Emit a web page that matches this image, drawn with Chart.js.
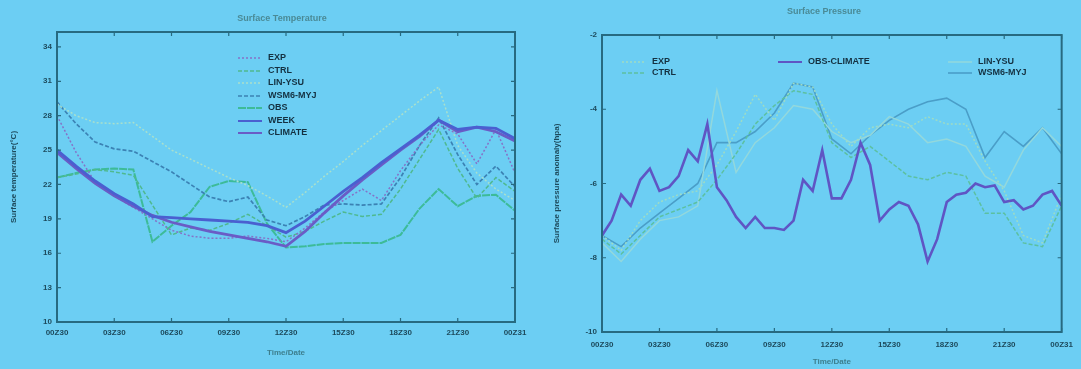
<!DOCTYPE html>
<html>
<head>
<meta charset="utf-8">
<script src="https://cdn.jsdelivr.net/npm/chart.js@4.4.1/dist/chart.umd.min.js"></script>
<style>
  html, body { margin: 0; padding: 0; background: #6ccef3; }
  #wrap { position: relative; width: 1081px; height: 369px; }
  .box { position: absolute; top: 0; height: 369px; }
</style>
</head>
<body>
<div id="wrap">
  <div class="box" style="left:0;width:540px"><canvas id="tempChart" width="540" height="369"></canvas></div>
  <div class="box" style="left:540px;width:541px"><canvas id="presChart" width="541" height="369"></canvas></div>
</div>
<script>
// time axis
const timeLabels = ["00Z30", "03Z30", "06Z30", "09Z30", "12Z30", "15Z30", "18Z30", "21Z30", "00Z31"];
const hours = [0, 1, 2, 3, 4, 5, 6, 7, 8, 9, 10, 11, 12, 13, 14, 15, 16, 17, 18, 19, 20, 21, 22, 23, 24];
const obsHours = [0, 0.5, 1, 1.5, 2, 2.5, 3, 3.5, 4, 4.5, 5, 5.5, 6, 6.5, 7, 7.5, 8, 8.5, 9, 9.5, 10, 10.5, 11, 11.5,
  12, 12.5, 13, 13.5, 14, 14.5, 15, 15.5, 16, 16.5, 17, 17.5, 18, 18.5, 19, 19.5, 20, 20.5, 21, 21.5, 22, 22.5, 23, 23.5, 24];

// left panel: surface temperature (°C)
const tempTicks = [10, 13, 16, 19, 22, 25, 28, 31, 34];
const tExp     = [28.0, 24.8, 22.2, 21.0, 20.0, 19.0, 18.0, 17.5, 17.3, 17.3, 17.5, 17.3, 17.0, 18.2, 19.6, 20.6, 21.6, 20.6, 23.2, 25.4, 27.2, 26.4, 23.8, 26.8, 23.0];
const tCtrl    = [22.6, 22.9, 23.3, 23.1, 22.8, 20.2, 17.6, 18.2, 18.0, 18.6, 19.4, 18.4, 17.4, 17.9, 18.8, 19.6, 19.2, 19.4, 21.6, 24.2, 26.8, 23.4, 20.8, 22.6, 21.4];
const tLinYsu  = [29.0, 28.0, 27.4, 27.3, 27.4, 26.2, 25.0, 24.2, 23.4, 22.6, 21.9, 21.0, 20.0, 21.3, 22.7, 24.0, 25.4, 26.7, 28.0, 29.3, 30.5, 25.4, 23.0, 21.6, 20.6];
const tWsmMyj  = [29.2, 27.3, 25.7, 25.1, 24.9, 24.0, 23.1, 22.0, 20.9, 20.5, 20.9, 18.9, 18.4, 19.2, 20.2, 20.3, 20.2, 20.3, 22.6, 25.4, 27.8, 24.6, 22.0, 23.6, 21.8];
const tObs     = [22.6, 23.0, 23.3, 23.4, 23.3, 17.0, 18.4, 19.6, 21.8, 22.3, 22.2, 18.6, 16.5, 16.6, 16.8, 16.9, 16.9, 16.9, 17.6, 19.9, 21.6, 20.1, 21.0, 21.1, 19.7];
const tWeek    = [25.0, 23.6, 22.3, 21.2, 20.3, 19.2, 19.1, 19.0, 18.9, 18.8, 18.7, 18.4, 17.8, 18.8, 20.1, 21.4, 22.6, 23.9, 25.1, 26.3, 27.6, 26.8, 27.0, 26.9, 26.0];
const tClimate = [24.8, 23.4, 22.1, 21.0, 20.1, 19.3, 18.7, 18.3, 17.9, 17.6, 17.3, 17.0, 16.6, 17.9, 19.5, 21.0, 22.4, 23.7, 25.0, 26.2, 27.6, 26.6, 27.0, 26.6, 25.8];

// right panel: surface pressure anomaly (hPa)
const presTicks = [-10, -8, -6, -4, -2];
const pExp    = [-7.4, -7.8, -7.0, -6.5, -6.3, -6.2, -5.5, -4.6, -3.6, -4.3, -3.3, -3.4, -4.4, -5.0, -4.5, -4.4, -4.5, -4.2, -4.4, -4.4, -5.4, -6.2, -7.4, -7.6, -6.3];
const pCtrl   = [-7.5, -7.9, -7.4, -6.9, -6.7, -6.5, -5.9, -5.2, -4.4, -3.9, -3.5, -3.6, -4.9, -5.3, -5.0, -5.4, -5.8, -5.9, -5.7, -5.8, -6.8, -6.8, -7.6, -7.7, -6.6];
const pLinYsu = [-7.6, -8.1, -7.5, -7.0, -6.9, -6.6, -3.5, -5.7, -4.9, -4.5, -3.9, -4.0, -4.6, -4.9, -4.7, -4.2, -4.4, -4.9, -4.8, -5.0, -5.8, -6.1, -5.1, -4.5, -5.0];
const pWsmMyj = [-7.4, -7.7, -7.2, -6.8, -6.4, -6.0, -4.9, -4.9, -4.6, -4.1, -3.3, -3.4, -4.8, -5.2, -4.7, -4.3, -4.0, -3.8, -3.7, -4.0, -5.3, -4.6, -5.0, -4.5, -5.2];
const pObsClimate = [-7.4, -7.0, -6.3, -6.6, -5.9, -5.6, -6.2, -6.1, -5.8, -5.1, -5.4, -4.4, -6.1, -6.45, -6.9, -7.2, -6.9, -7.2, -7.2, -7.25,
  -7.0, -5.9, -6.2, -5.1, -6.4, -6.4, -5.9, -4.9, -5.5, -7.0, -6.7, -6.5, -6.6, -7.1, -8.1, -7.5, -6.5, -6.3, -6.25, -6.0,
  -6.1, -6.05, -6.5, -6.45, -6.7, -6.6, -6.3, -6.2, -6.6];

const axisColor = "#276a80";
const textColor = "#1d4a5c";
const tickFont = { family: "Liberation Sans", size: 8, weight: "bold" };

function pts(xs, ys) {
  return ys.map((v, i) => ({ x: xs[i], y: v }));
}

// frame, inward ticks, title and legend drawn over the plot
const decorPlugin = {
  id: "decor",
  afterDatasetsDraw(chart, args, opts) {
    const { ctx, chartArea: a, scales } = chart;
    ctx.save();
    ctx.strokeStyle = axisColor;
    ctx.lineWidth = 2;
    ctx.strokeRect(a.left, a.top, a.right - a.left, a.bottom - a.top);
    ctx.lineWidth = 1.2;
    ctx.beginPath();
    scales.x.ticks.forEach(t => {
      const px = scales.x.getPixelForValue(t.value);
      ctx.moveTo(px, a.bottom); ctx.lineTo(px, a.bottom - 4);
      ctx.moveTo(px, a.top); ctx.lineTo(px, a.top + 4);
    });
    scales.y.ticks.forEach(t => {
      const py = scales.y.getPixelForValue(t.value);
      ctx.moveTo(a.left, py); ctx.lineTo(a.left + 4, py);
      ctx.moveTo(a.right, py); ctx.lineTo(a.right - 4, py);
    });
    ctx.stroke();

    // title
    ctx.fillStyle = "#4a8a96";
    ctx.font = "bold 9px 'Liberation Sans'";
    ctx.textAlign = "center";
    ctx.textBaseline = "middle";
    ctx.fillText(opts.title, opts.titleX, opts.titleY);

    // legend
    ctx.textAlign = "left";
    ctx.fillStyle = "#143040";
    ctx.font = "bold 9px 'Liberation Sans'";
    opts.items.forEach(it => {
      const ds = chart.data.datasets[it.i];
      ctx.strokeStyle = ds.borderColor;
      ctx.lineWidth = Math.min(ds.borderWidth, 2);
      ctx.setLineDash(ds.borderDash || []);
      ctx.beginPath();
      ctx.moveTo(it.x, it.y);
      ctx.lineTo(it.x + 24, it.y);
      ctx.stroke();
      ctx.setLineDash([]);
      ctx.fillText(ds.label, it.x + 30, it.y);
    });
    ctx.restore();
  }
};

function makeScales(xTitle, yTitle, yMin, yMax, yTicks, yWidth, xHeight, xTickPad, xTitlePad, yTitlePad) {
  return {
    x: {
      type: "linear", min: 0, max: 24,
      afterBuildTicks: s => { s.ticks = [0, 3, 6, 9, 12, 15, 18, 21, 24].map(v => ({ value: v })); },
      afterFit: s => { s.height = xHeight; },
      ticks: { color: textColor, font: tickFont, padding: xTickPad, maxRotation: 0, autoSkip: false,
        callback: v => timeLabels[v / 3] },
      grid: { display: false, drawTicks: false },
      border: { display: false },
      title: { display: true, text: xTitle, color: "#3d7f8e", font: tickFont, padding: { top: 0, bottom: xTitlePad } }
    },
    y: {
      type: "linear", min: yMin, max: yMax,
      afterBuildTicks: s => { s.ticks = yTicks.map(v => ({ value: v })); },
      afterFit: s => { s.width = yWidth; },
      ticks: { color: textColor, font: tickFont, padding: 5, autoSkip: false },
      grid: { display: false, drawTicks: false },
      border: { display: false },
      title: { display: true, text: yTitle, color: textColor, font: tickFont, padding: { top: yTitlePad, bottom: 0 } }
    }
  };
}

const lineDefaults = { fill: false, tension: 0, pointRadius: 0 };

new Chart(document.getElementById("tempChart"), {
  type: "line",
  data: {
    datasets: [
      { ...lineDefaults, label: "WEEK", data: pts(hours, tWeek), borderColor: "#4a5fd0", borderWidth: 2.8 },
      { ...lineDefaults, label: "CLIMATE", data: pts(hours, tClimate), borderColor: "#6a5cc6", borderWidth: 2.8 },
      { ...lineDefaults, label: "EXP", data: pts(hours, tExp), borderColor: "#8572c8", borderWidth: 1.5, borderDash: [2, 2] },
      { ...lineDefaults, label: "CTRL", data: pts(hours, tCtrl), borderColor: "#4fb98f", borderWidth: 1.5, borderDash: [4, 2] },
      { ...lineDefaults, label: "LIN-YSU", data: pts(hours, tLinYsu), borderColor: "#a9e0cc", borderWidth: 1.5, borderDash: [2, 2] },
      { ...lineDefaults, label: "WSM6-MYJ", data: pts(hours, tWsmMyj), borderColor: "#3b82b4", borderWidth: 1.7, borderDash: [4, 2] },
      { ...lineDefaults, label: "OBS", data: pts(hours, tObs), borderColor: "#3dbb98", borderWidth: 2, borderDash: [8, 1] }
    ]
  },
  options: {
    responsive: false,
    animation: false,
    layout: { padding: { left: 0, top: 32, right: 25, bottom: 0 } },
    scales: makeScales("Time/Date", "Surface temperature(\u00b0C)", 10, 35.3, tempTicks, 57, 47, 6, 11, 9),
    plugins: {
      legend: { display: false },
      tooltip: { enabled: false },
      decor: {
        title: "Surface Temperature", titleX: 282, titleY: 19,
        items: [
          { i: 2, x: 238, y: 58 }, { i: 3, x: 238, y: 71 }, { i: 4, x: 238, y: 83 }, { i: 5, x: 238, y: 96 },
          { i: 6, x: 238, y: 108 }, { i: 0, x: 238, y: 121 }, { i: 1, x: 238, y: 133 }
        ]
      }
    }
  },
  plugins: [decorPlugin]
});

new Chart(document.getElementById("presChart"), {
  type: "line",
  data: {
    datasets: [
      { ...lineDefaults, label: "OBS-CLIMATE", data: pts(obsHours, pObsClimate), borderColor: "#5f55c4", borderWidth: 2.6 },
      { ...lineDefaults, label: "EXP", data: pts(hours, pExp), borderColor: "#9edcc4", borderWidth: 1.5, borderDash: [2, 2] },
      { ...lineDefaults, label: "CTRL", data: pts(hours, pCtrl), borderColor: "#5cc0a0", borderWidth: 1.5, borderDash: [4, 2] },
      { ...lineDefaults, label: "LIN-YSU", data: pts(hours, pLinYsu), borderColor: "#93d8dc", borderWidth: 1.5 },
      { ...lineDefaults, label: "WSM6-MYJ", data: pts(hours, pWsmMyj), borderColor: "#4a9ec8", borderWidth: 1.6 }
    ]
  },
  options: {
    responsive: false,
    animation: false,
    layout: { padding: { left: 0, top: 35, right: 17, bottom: 0 } },
    scales: makeScales("Time/Date", "Surface pressure anomaly(hpa)", -10, -2, presTicks, 62, 37, 8, 2, 12),
    plugins: {
      legend: { display: false },
      tooltip: { enabled: false },
      decor: {
        title: "Surface Pressure", titleX: 284, titleY: 12,
        items: [
          { i: 1, x: 82, y: 62 }, { i: 2, x: 82, y: 73 }, { i: 0, x: 238, y: 62 },
          { i: 3, x: 408, y: 62 }, { i: 4, x: 408, y: 73 }
        ]
      }
    }
  },
  plugins: [decorPlugin]
});
</script>
</body>
</html>
